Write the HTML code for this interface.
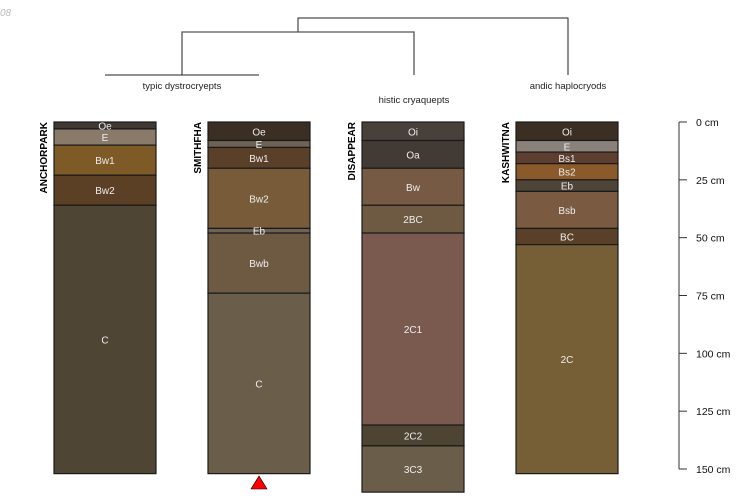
<!DOCTYPE html>
<html><head><meta charset="utf-8"><style>
html,body{margin:0;padding:0;background:#fff;}
svg{display:block;font-family:"Liberation Sans",sans-serif;}
</style></head><body>
<svg id="chart" width="750" height="500" viewBox="0 0 750 500">
<text x="0" y="16" font-size="10" fill="#bbb" font-style="italic">08</text>
<g fill="none" stroke="#222" stroke-width="1">
<path d="M298 32 V18 H568 V75"/>
<path d="M182 75 V32 H414 V75" stroke="#555" stroke-width="1.3"/>
<path d="M105 75 H259"/>
</g>
<g font-size="9.5" fill="#222" text-anchor="middle">
<text x="182" y="89">typic dystrocryepts</text>
<text x="414" y="103">histic cryaquepts</text>
<text x="568" y="89">andic haplocryods</text>
</g>
<g id="profiles"></g>
<g id="axis"></g>
<polygon points="251,489 267,489 259,476" fill="#ff0000" stroke="#000" stroke-width="0.6"/>
</svg>
<script>
const profileNames = ["ANCHORPARK","SMITHFHA","DISAPPEAR","KASHWITNA"];
const horizonNames = [
 ["Oe","E","Bw1","Bw2","C"],
 ["Oe","E","Bw1","Bw2","Eb","Bwb","C"],
 ["Oi","Oa","Bw","2BC","2C1","2C2","3C3"],
 ["Oi","E","Bs1","Bs2","Eb","Bsb","BC","2C"]
];
const horizonBottoms = [
 [3,10,23,36,152],
 [8,11,20,46,48,74,152],
 [8,20,36,48,131,140,160],
 [8,13,18,25,30,46,53,152]
];
const horizonColors = [
 ["#3f3833","#8a7a6a","#7e5a26","#5c4026","#4f4535"],
 ["#3b2e22","#6e6254","#5a4028","#785c3a","#6e6254","#6e5a42","#6a5e4a"],
 ["#48403a","#423a35","#765a44","#6e5a42","#7a5a4e","#4e4434","#6a5e4a"],
 ["#3b2e22","#8a827a","#5e3e2e","#8a5a2a","#4e4438","#7a5a40","#5a4028","#765e36"]
];
const depthTicks = [0,25,50,75,100,125,150];
const tickLabels = ["0 cm","25 cm","50 cm","75 cm","100 cm","125 cm","150 cm"];

const NS="http://www.w3.org/2000/svg";
const y0=122, pxPerCm=347/150;
function yScale(d){return y0+d*pxPerCm;}
function xScale(i){return 54+i*154;}
const W=102;
function mk(tag,attrs,parent){const e=document.createElementNS(NS,tag);for(const k in attrs)e.setAttribute(k,attrs[k]);parent.appendChild(e);return e;}
const pg=document.getElementById('profiles');
profileNames.forEach((name,i)=>{
  const g=mk('g',{},pg);
  
  
  const x=xScale(i);
  let top=0;
  horizonBottoms[i].forEach((b,j)=>{
    const r=mk('rect',{x:x,y:yScale(top),width:W,height:yScale(b)-yScale(top),fill:horizonColors[i][j],stroke:'#1a1a1a','stroke-width':1.2},g);
    
    
    top=b;
  });
  top=0;
  horizonBottoms[i].forEach((b,j)=>{
    const t=mk('text',{x:x+W/2,y:(yScale(top)+yScale(b))/2+4,'font-size':10,fill:'#eee','text-anchor':'middle'},g);
    t.textContent=horizonNames[i][j];
    
    
    top=b;
  });
  const nt=mk('text',{x:0,y:0,'font-size':10,'font-weight':'bold',fill:'#000','text-anchor':'end',transform:'translate('+(x-7)+','+y0+') rotate(-90)'},g);
  nt.textContent=name;
  
  
});
const ax=document.getElementById('axis');
const al=mk('line',{x1:679,x2:679,y1:yScale(depthTicks[0]),y2:yScale(depthTicks[depthTicks.length-1]),stroke:'#777','stroke-width':1.5},ax);


depthTicks.forEach((d,k)=>{
  const tl=mk('line',{x1:679,x2:687,y1:yScale(d),y2:yScale(d),stroke:'#333','stroke-width':1},ax);
  
  
  const tt=mk('text',{x:696,y:yScale(d)+4,'font-size':10.5,fill:'#111'},ax);
  tt.textContent=tickLabels[k];
  
  
});
</script>
</body></html>
